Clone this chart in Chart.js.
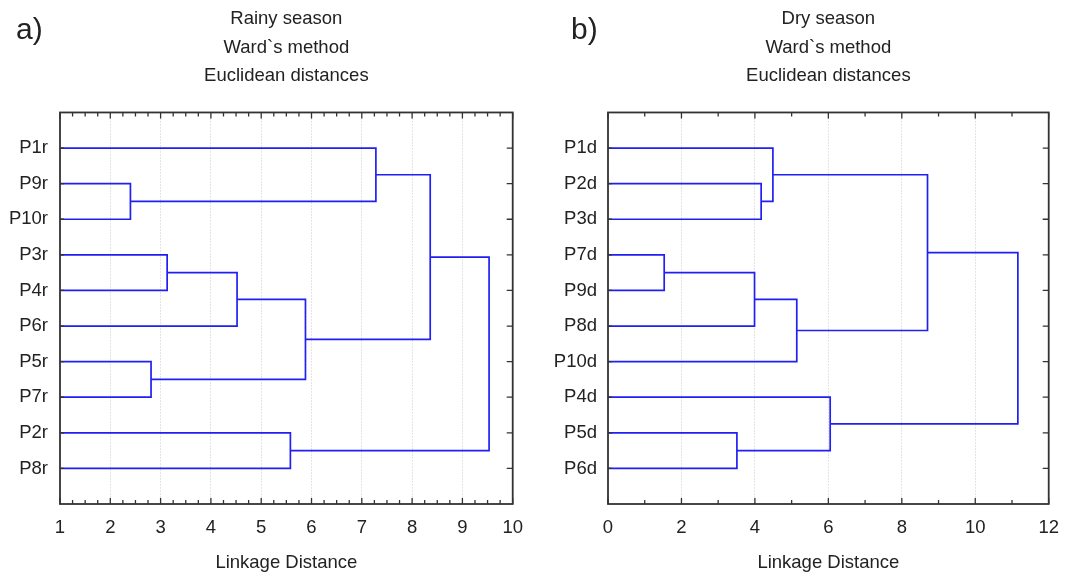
<!DOCTYPE html>
<html>
<head>
<meta charset="utf-8">
<script src="https://cdn.jsdelivr.net/npm/chart.js@4.4.1/dist/chart.umd.min.js"></script>
<style>
  html, body { margin: 0; padding: 0; background: #fff; }
  #wrap { position: relative; width: 1072px; height: 577px; }
  .panel { position: absolute; top: 0; width: 536px; height: 577px; }
  .tag { position: absolute; top: 12px; font: 30px "Liberation Sans", Arial, sans-serif; color: #222; }
</style>
</head>
<body>
<div id="wrap">
  <div class="panel" style="left:0"><canvas id="rainy"></canvas></div>
  <div class="panel" style="left:536px"><canvas id="dry"></canvas></div>
  <div class="tag" style="left:16px">a)</div>
  <div class="tag" style="left:571px">b)</div>
</div>
<script>
// ── 데이터 ──────────────────────────────────────────
// leaves top → bottom; merges: [childA, childB, linkage distance]
// child index < 10 = leaf, >= 10 = earlier merge (10 + its index)
const rainyLeaves = ["P1r", "P9r", "P10r", "P3r", "P4r", "P6r", "P5r", "P7r", "P2r", "P8r"];
const rainyMerges = [
  [1, 2, 2.40],    // 10  P9r + P10r
  [6, 7, 2.81],    // 11  P5r + P7r
  [3, 4, 3.13],    // 12  P3r + P4r
  [12, 5, 4.52],   // 13  + P6r
  [8, 9, 5.58],    // 14  P2r + P8r
  [13, 11, 5.88],  // 15
  [0, 10, 7.28],   // 16  P1r + (P9r,P10r)
  [16, 15, 8.36],  // 17
  [17, 14, 9.53],  // 18
];
const rainyTitle = ["Rainy season", "Ward`s method", "Euclidean distances"];

const dryLeaves = ["P1d", "P2d", "P3d", "P7d", "P9d", "P8d", "P10d", "P4d", "P5d", "P6d"];
const dryMerges = [
  [3, 4, 1.53],    // 10  P7d + P9d
  [8, 9, 3.51],    // 11  P5d + P6d
  [10, 5, 3.99],   // 12  + P8d
  [1, 2, 4.17],    // 13  P2d + P3d
  [0, 13, 4.49],   // 14  + P1d
  [12, 6, 5.14],   // 15  + P10d
  [7, 11, 6.05],   // 16  P4d + (P5d,P6d)
  [14, 15, 8.70],  // 17
  [17, 16, 11.16], // 18
];
const dryTitle = ["Dry season", "Ward`s method", "Euclidean distances"];

const axisTitle = "Linkage Distance";
const FONT = '"Liberation Sans", Arial, sans-serif';
const TEXT = "#222";
const LINE = "#2020f4";
const FRAME = "#333";

// ── 덴드로그램 선분 ─────────────────────────────────
function buildLinks(leaves, merges, base) {
  const nodes = leaves.map((_, i) => ({ y: i + 1, h: base }));
  const sets = [];
  merges.forEach(([a, b, h]) => {
    const A = nodes[a], B = nodes[b];
    sets.push([
      { x: A.h, y: A.y }, { x: h, y: A.y },
      { x: h, y: B.y }, { x: B.h, y: B.y },
    ]);
    nodes.push({ y: (A.y + B.y) / 2, h });
  });
  return sets;
}

// frame + inward ticks (STATISTICA style)
const framePlugin = {
  id: "frame",
  afterDraw(chart, args, opts) {
    const { ctx, chartArea: a, scales: { x, y } } = chart;
    ctx.save();
    ctx.strokeStyle = FRAME;
    ctx.lineWidth = 1.3;
    ctx.beginPath();
    for (let v = x.min; v <= x.max + 1e-9; v += opts.minor) {
      const px = x.getPixelForValue(v);
      const major = Math.abs(v / opts.major - Math.round(v / opts.major)) < 1e-6;
      const len = major ? 6 : 4;
      ctx.moveTo(px, a.bottom); ctx.lineTo(px, a.bottom - len);
      ctx.moveTo(px, a.top); ctx.lineTo(px, a.top + len);
    }
    y.ticks.forEach(t => {
      const py = y.getPixelForValue(t.value);
      ctx.moveTo(a.right, py); ctx.lineTo(a.right - 6, py);
      ctx.moveTo(a.left, py); ctx.lineTo(a.left + 4, py);
    });
    ctx.stroke();
    ctx.lineWidth = 1.8;
    ctx.strokeRect(a.left, a.top, a.right - a.left, a.bottom - a.top);
    ctx.restore();
  },
};

function makeChart(id, leaves, merges, title, xmin, xmax, step, minor, axisW, padRight, labelPad) {
  const links = buildLinks(leaves, merges, xmin);
  return new Chart(document.getElementById(id), {
    type: "scatter",
    data: {
      datasets: links.map(pts => ({
        data: pts,
        showLine: true,
        borderColor: LINE,
        borderWidth: 1.7,
        pointRadius: 0,
        tension: 0,
      })),
    },
    options: {
      responsive: true,
      maintainAspectRatio: false,
      animation: false,
      layout: { padding: { left: 0, right: padRight, top: 0, bottom: 0 } },
      plugins: {
        legend: { display: false },
        tooltip: { enabled: false },
        title: {
          display: true,
          fullSize: false,
          text: title,
          color: TEXT,
          font: { family: FONT, size: 18.5, weight: "normal", lineHeight: 1.54 },
          padding: { top: 5, bottom: 22 },
        },
        frame: { major: step, minor },
      },
      scales: {
        x: {
          type: "linear",
          min: xmin,
          max: xmax,
          grid: { color: "#c8c8c8", lineWidth: 1, drawTicks: false },
          border: { display: false, dash: [1, 2] },
          ticks: {
            stepSize: step,
            color: TEXT,
            padding: 13,
            font: { family: FONT, size: 18.5 },
            maxRotation: 0,
          },
          title: {
            display: true,
            text: axisTitle,
            color: TEXT,
            font: { family: FONT, size: 18.5 },
            padding: { top: 0, bottom: 3 },
          },
          afterFit(s) { s.height = 73; },
        },
        y: {
          type: "linear",
          min: 0,
          max: 11,
          reverse: true,
          grid: { display: false, drawTicks: false },
          border: { display: false },
          afterBuildTicks(s) { s.ticks = leaves.map((_, i) => ({ value: i + 1 })); },
          ticks: {
            color: TEXT,
            padding: labelPad,
            font: { family: FONT, size: 18.5 },
            callback: v => leaves[v - 1],
          },
          afterFit(s) { s.width = axisW; },
        },
      },
    },
    plugins: [framePlugin],
  });
}

makeChart("rainy", rainyLeaves, rainyMerges, rainyTitle, 1, 10, 1, 0.25, 60, 23, 12);
makeChart("dry", dryLeaves, dryMerges, dryTitle, 0, 12, 2, 1, 72, 22, 11);
</script>
</body>
</html>
